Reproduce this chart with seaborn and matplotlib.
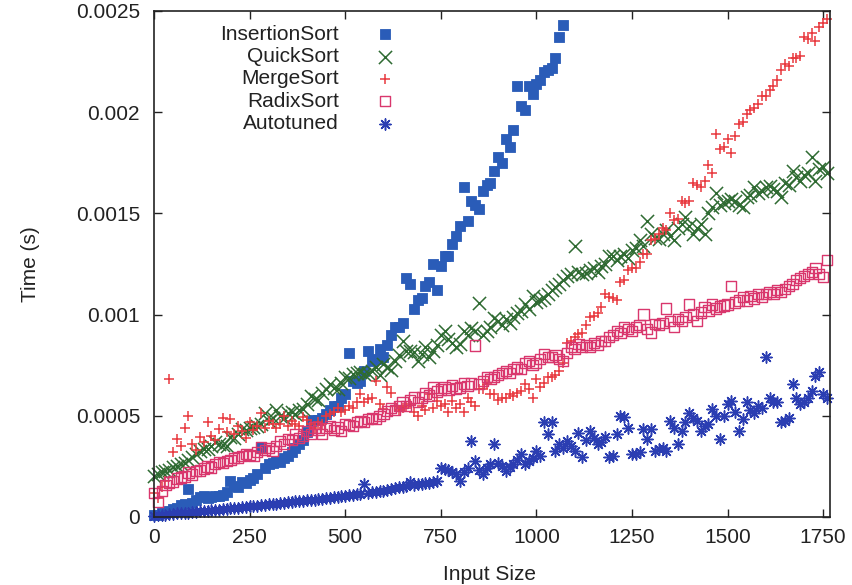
import matplotlib
matplotlib.use("Agg")
import matplotlib.pyplot as plt
import numpy as np
import seaborn as sns

# Input sizes of the benchmark runs
input_sizes = list(range(0, 1770, 10))

# Measured run times, in units of 1e-4 s
insertion_sort = [
    0.10, 0.12, 0.20, 0.25, 0.30, 0.38, 0.46, 0.60, 0.62, 1.38,
    0.70, 0.85, 1.00, 1.05, 0.96, 1.00, 1.02, 1.04, 1.10, 1.25,
    1.80, 1.55, 1.50, 1.75, 1.70, 1.85, 1.95, 2.10, 3.45, 2.40,
    2.60, 2.65, 2.75, 2.70, 2.90, 3.00, 3.20, 3.40, 3.60, 3.80,
    4.20, 4.75, 4.80, 4.80, 4.90, 5.10, 5.30, 5.50, 5.50, 5.90,
    6.10, 8.10, 6.70, 6.60, 6.70, 7.20, 8.20, 7.70, 7.80, 8.30,
    7.90, 8.50, 9.00, 9.40, 9.40, 9.60, 11.80, 11.50, 10.30, 10.70,
    10.80, 11.40, 11.60, 12.50, 11.20, 12.40, 12.90, 12.90, 13.50, 13.90,
    14.40, 16.30, 14.60, 15.60, 15.40, 15.20, 16.10, 16.40, 16.50, 17.10,
    17.80, 17.50, 18.70, 18.30, 19.10, 21.30, 20.30, 20.10, 21.30, 20.90,
    21.40, 21.60, 22.00, 22.10, 22.20, 22.70, 23.70, 24.30,
]

quick_sort = [
    2.05, 2.10, 2.20, 2.25, 2.30, 2.45, 2.50, 2.60, 2.65, 2.80,
    2.95, 3.10, 3.25, 3.35, 3.35, 3.50, 3.70, 3.60, 3.55, 3.50,
    3.95, 3.90, 4.10, 4.35, 4.30, 4.40, 4.45, 4.50, 4.60, 5.15,
    4.75, 4.90, 5.30, 5.00, 4.90, 5.15, 5.20, 5.10, 5.30, 5.35,
    5.60, 6.00, 5.85, 5.80, 6.15, 6.30, 6.55, 6.35, 6.30, 6.60,
    6.90, 6.85, 7.05, 7.10, 7.15, 7.05, 7.10, 7.20, 7.40, 7.00,
    7.55, 7.40, 7.25, 7.70, 8.00, 8.70, 8.20, 8.20, 8.15, 7.70,
    8.05, 8.40, 7.90, 8.20, 8.50, 9.00, 9.20, 8.80, 8.60, 8.40,
    8.55, 9.20, 9.00, 9.35, 9.20, 10.55, 9.00, 9.20, 9.40, 9.85,
    9.70, 9.50, 9.80, 9.60, 9.90, 10.10, 10.20, 10.50, 10.30, 10.90,
    10.60, 10.70, 10.80, 11.00, 11.20, 11.35, 11.50, 11.70, 11.90, 12.00,
    13.40, 12.10, 12.00, 12.05, 12.20, 12.30, 12.10, 12.40, 12.50, 12.90,
    12.90, 12.70, 12.90, 13.00, 12.80, 13.20, 13.30, 13.70, 13.40, 14.60,
    14.00, 13.80, 13.75, 14.00, 14.20, 13.90, 13.70, 14.30, 14.50, 14.80,
    14.40, 14.00, 14.30, 14.50, 14.00, 15.00, 15.30, 16.00, 15.40, 15.50,
    15.60, 15.70, 15.60, 15.40, 15.30, 15.80, 15.90, 16.30, 16.00, 16.10,
    16.30, 16.35, 16.20, 16.10, 15.80, 16.50, 16.40, 17.10, 16.80, 16.60,
    16.90, 17.00, 17.80, 16.60, 17.20, 17.30, 17.00,
]

merge_sort = [
    1.20, 0.96, 1.50, 1.80, 6.80, 3.20, 3.85, 3.50, 4.40, 5.00,
    3.60, 3.30, 3.93, 3.70, 4.67, 4.00, 3.80, 4.34, 4.90, 4.20,
    4.84, 4.10, 4.50, 4.26, 3.90, 4.67, 4.30, 4.50, 5.16, 4.42,
    4.75, 4.60, 4.40, 4.60, 5.00, 4.50, 4.75, 4.60, 4.50, 4.92,
    4.80, 4.60, 4.42, 4.70, 4.60, 5.00, 5.10, 5.20, 5.40, 5.20,
    5.30, 5.50, 5.40, 5.66, 6.07, 5.70, 5.83, 5.90, 6.73, 5.60,
    5.33, 6.40, 6.15, 5.50, 5.30, 5.40, 5.50, 5.58, 5.20, 5.00,
    5.50, 5.30, 6.07, 5.40, 5.74, 5.50, 5.60, 5.20, 5.74, 5.40,
    5.58, 5.20, 5.90, 5.66, 5.50, 6.32, 6.30, 6.57, 6.07, 6.07,
    5.80, 5.90, 5.90, 6.07, 6.00, 6.15, 6.24, 6.57, 6.30, 5.90,
    6.80, 6.40, 6.60, 6.90, 6.90, 7.00, 7.20, 7.60, 8.60, 8.70,
    8.90, 9.04, 9.10, 9.50, 9.87, 9.95, 10.10, 10.40, 11.00, 10.86,
    10.80, 10.70, 11.60, 11.70, 12.20, 12.30, 12.30, 12.60, 13.00, 13.00,
    13.70, 13.75, 14.00, 14.30, 14.20, 15.00, 14.65, 14.70, 15.60, 15.50,
    15.60, 16.50, 16.40, 16.30, 16.60, 17.40, 17.00, 18.90, 18.20, 18.30,
    18.70, 18.00, 18.80, 19.40, 19.50, 19.90, 20.10, 20.20, 20.40, 20.80,
    20.80, 21.10, 21.30, 21.60, 22.10, 22.40, 22.30, 22.70, 22.70, 22.80,
    23.70, 23.60, 23.90, 23.50, 24.20, 24.40, 24.60,
]

radix_sort = [
    1.20, 0.75, 1.30, 1.60, 1.70, 1.75, 1.90, 1.95, 2.00, 2.20,
    2.10, 2.28, 2.30, 2.40, 2.50, 2.45, 2.60, 2.70, 2.65, 2.77,
    2.80, 2.90, 2.94, 3.00, 3.10, 3.05, 3.00, 3.20, 3.43, 3.30,
    3.40, 3.27, 3.50, 3.76, 3.60, 3.85, 3.80, 4.10, 3.90, 4.00,
    4.26, 4.10, 4.42, 4.30, 4.10, 4.40, 4.50, 4.30, 4.42, 4.26,
    4.60, 4.55, 4.50, 4.70, 4.75, 4.70, 4.84, 4.90, 4.85, 5.00,
    5.08, 5.25, 5.40, 5.30, 5.50, 5.66, 5.50, 5.80, 5.90, 5.70,
    5.90, 6.10, 6.00, 6.40, 6.20, 6.30, 6.40, 6.30, 6.50, 6.35,
    6.40, 6.60, 6.49, 6.60, 8.47, 6.57, 6.70, 6.90, 6.80, 6.90,
    7.00, 7.10, 7.23, 7.10, 7.30, 7.39, 7.30, 7.60, 7.72, 7.50,
    7.60, 7.80, 8.05, 7.90, 7.90, 8.00, 7.80, 7.72, 8.10, 8.38,
    8.30, 8.55, 8.40, 8.50, 8.38, 8.60, 8.50, 8.70, 8.70, 8.90,
    9.00, 9.20, 9.10, 9.37, 9.30, 9.20, 9.40, 9.50, 10.00, 9.30,
    9.12, 9.54, 9.50, 9.60, 10.30, 9.70, 9.37, 9.80, 9.70, 9.90,
    10.50, 10.00, 9.70, 10.10, 10.36, 10.20, 10.50, 10.30, 10.40, 10.45,
    10.50, 11.40, 10.60, 10.70, 10.86, 10.70, 10.90, 10.80, 11.00, 10.86,
    11.00, 11.10, 11.00, 11.20, 11.10, 11.27, 11.40, 11.50, 11.70, 11.80,
    11.90, 12.00, 12.10, 12.30, 12.00, 11.85, 12.70,
]

autotuned = [
    0.05, 0.10, 0.10, 0.12, 0.15, 0.15, 0.18, 0.20, 0.20, 0.22,
    0.25, 0.27, 0.28, 0.30, 0.30, 0.33, 0.35, 0.36, 0.38, 0.40,
    0.42, 0.44, 0.45, 0.48, 0.50, 0.52, 0.54, 0.55, 0.57, 0.60,
    0.62, 0.63, 0.65, 0.68, 0.70, 0.72, 0.75, 0.77, 0.78, 0.80,
    0.82, 0.84, 0.86, 0.88, 0.90, 0.92, 0.95, 0.97, 1.00, 1.02,
    1.05, 1.08, 1.10, 1.12, 1.15, 1.65, 1.20, 1.22, 1.25, 1.28,
    1.30, 1.35, 1.40, 1.43, 1.47, 1.50, 1.52, 1.75, 1.60, 1.62,
    1.65, 1.68, 1.70, 1.72, 1.78, 2.44, 2.36, 2.30, 2.20, 2.10,
    1.78, 2.20, 2.44, 3.76, 2.77, 2.30, 2.10, 2.40, 2.60, 3.60,
    2.69, 2.50, 2.28, 2.45, 2.60, 2.80, 3.10, 2.60, 2.75, 2.90,
    3.27, 3.00, 4.67, 4.10, 4.67, 3.27, 3.60, 3.40, 3.76, 3.50,
    3.27, 4.17, 2.94, 3.80, 4.26, 3.90, 3.60, 3.70, 3.93, 2.94,
    3.00, 4.09, 5.00, 4.92, 4.42, 3.10, 3.10, 3.20, 4.34, 3.85,
    4.34, 3.27, 3.35, 3.40, 3.27, 4.75, 4.40, 3.60, 4.26, 4.67,
    5.16, 4.90, 4.75, 4.26, 4.50, 4.59, 5.33, 5.00, 3.85, 5.00,
    5.58, 5.74, 5.20, 4.26, 4.84, 5.66, 5.30, 5.16, 5.50, 5.40,
    7.90, 5.90, 5.70, 5.66, 4.67, 4.75, 4.90, 6.57, 5.90, 5.58,
    5.66, 5.90, 6.24, 6.98, 7.15, 6.07, 5.90,
]

series_names = ["InsertionSort", "QuickSort", "MergeSort", "RadixSort", "Autotuned"]
series_values = [insertion_sort, quick_sort, merge_sort, radix_sort, autotuned]

x_ticks = [0, 250, 500, 750, 1000, 1250, 1500, 1750]
y_ticks = [0, 0.0005, 0.001, 0.0015, 0.002, 0.0025]
y_tick_labels = ["0", "0.0005", "0.001", "0.0015", "0.002", "0.0025"]

sns.set_style("ticks")
plt.rcParams["font.family"] = ["Liberation Sans", "DejaVu Sans"]

FONT = 15
INK = "#222222"

marker_styles = {
    "InsertionSort": dict(marker="s", s=56, color="#2a5cb8", edgecolor="#2a5cb8", linewidth=0.6),
    "QuickSort": dict(marker="x", s=90, color="#2f6b32", linewidth=1.1),
    "MergeSort": dict(marker="+", s=62, color="#e8393f", linewidth=1.1),
    "RadixSort": dict(marker="s", s=54, color="#d9376d", facecolor="none",
                      edgecolor="#d9376d", linewidth=1.0),
    "Autotuned": dict(marker=(8, 2, 0), s=64, color="#2b3eb2", linewidth=1.1),
}

fig = plt.figure(figsize=(8.52, 5.85), dpi=100)
ax = fig.add_axes([154 / 852, 1 - 517 / 585, 676 / 852, 506 / 585])

for name, values in zip(series_names, series_values):
    xs = input_sizes[:len(values)]
    ys = np.asarray(values) * 1e-4
    sns.scatterplot(x=xs, y=ys, ax=ax, label=name, clip_on=False, legend=False,
                    **marker_styles[name])

ax.set_xlim(0, 1768)
ax.set_ylim(0, 0.0025)
ax.set_xticks(x_ticks)
ax.set_xticklabels([str(t) for t in x_ticks])
ax.set_yticks(y_ticks)
ax.set_yticklabels(y_tick_labels)
ax.tick_params(direction="in", length=5.8, width=1.0, top=True, right=True,
               labelsize=FONT, colors=INK)
ax.tick_params(axis="x", pad=8)
ax.tick_params(axis="y", pad=10)
for spine in ax.spines.values():
    spine.set_color(INK)
    spine.set_linewidth(1.2)

ax.set_xlabel("Input Size", fontsize=FONT, color=INK)
ax.set_ylabel("Time (s)", fontsize=FONT, color=INK)
ax.xaxis.set_label_coords(0.497, -0.094)
ax.yaxis.set_label_coords(-0.169, 0.5)

leg = ax.legend(loc="upper right", bbox_to_anchor=(0.486, 0.972),
                bbox_transform=fig.transFigure, frameon=False, markerfirst=False,
                scatterpoints=1, handlelength=2.0, handletextpad=1.2,
                labelspacing=0.16, borderpad=0.4, borderaxespad=0, fontsize=FONT)
for t in leg.get_texts():
    t.set_color(INK)

fig.savefig("out.png", dpi=100)
